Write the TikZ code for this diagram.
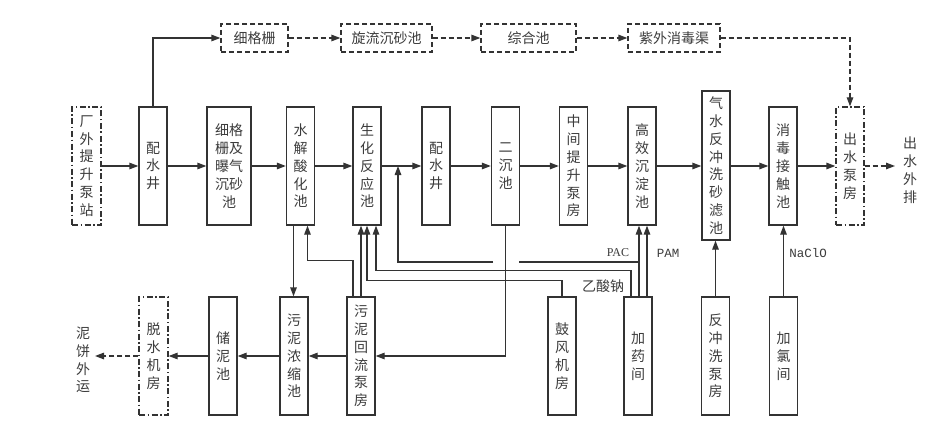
\documentclass[tikz,border=0pt]{standalone}
\usepackage{fontspec}
\setmainfont{Noto Sans CJK SC}
\newfontfamily\serifl{Liberation Serif}
\newfontfamily\monol{Liberation Mono}
\usetikzlibrary{arrows.meta}
\definecolor{ln}{HTML}{333333}
\definecolor{tx}{HTML}{3C3C3C}
\begin{document}
\begin{tikzpicture}[x=1pt,y=-1pt,
  every node/.style={text=tx, inner sep=0pt, align=center, font=\fontsize{14}{17.8}\selectfont},
  box/.style={draw=ln, line width=1.3pt, minimum width=28, minimum height=118},
  dashdot/.style={dash pattern=on 6pt off 2.5pt on 1.5pt off 2.5pt},
  tbox/.style={draw=ln, line width=1.3pt, minimum height=28, dash pattern=on 5pt off 3pt},
  line/.style={draw=ln, line width=1.3pt},
  arr/.style={line, -{Triangle[length=9pt,width=6.5pt]}},
  darr/.style={arr, dash pattern=on 5pt off 3pt},
  lpac/.style={font=\serifl\fontsize{12}{14}\selectfont},
  lmono/.style={font=\monol\fontsize{12.5}{14}\selectfont}
]
\useasboundingbox (0,0) rectangle (939,425);
\fill[white] (0,0) rectangle (939,425);

% main row
\node[box, dashdot, minimum width=29] (src) at (86.5,166) {厂\\外\\提\\升\\泵\\站};
\node[box] (pw1) at (153,166) {配\\水\\井};
\node[box, minimum width=44] (grit) at (229,166) {细格\\栅及\\曝气\\沉砂\\池};
\node[box] (hyd) at (300.5,166) {水\\解\\酸\\化\\池};
\node[box] (bio) at (367,166) {生\\化\\反\\应\\池};
\node[box] (pw2) at (436,166) {配\\水\\井};
\node[box] (sec) at (505.5,166) {二\\沉\\池};
\node[box] (mid) at (573.5,166) {中\\间\\提\\升\\泵\\房};
\node[box] (hes) at (642,166) {高\\效\\沉\\淀\\池};
\node[box, minimum height=149] (filt) at (716,165.5) {气\\水\\反\\冲\\洗\\砂\\滤\\池};
\node[box] (dis) at (783,166) {消\\毒\\接\\触\\池};
\node[box, dashdot] (out) at (850,166) {出\\水\\泵\\房};
\node (eff) at (910,170) {出\\水\\外\\排};

% top row
\node[tbox, minimum width=67] (t1) at (254.5,38) {细格栅};
\node[tbox, minimum width=91] (t2) at (386.5,38) {旋流沉砂池};
\node[tbox, minimum width=95] (t3) at (528.5,38) {综合池};
\node[tbox, minimum width=92] (t4) at (674,38) {紫外消毒渠};

% bottom row
\node[box, dashdot, minimum width=29] (dew) at (153.5,356) {脱\\水\\机\\房};
\node[box] (sto) at (223,356) {储\\泥\\池};
\node[box] (thk) at (294,356) {污\\泥\\浓\\缩\\池};
\node[box] (rp) at (361,356) {污\\泥\\回\\流\\泵\\房};
\node[box] (blw) at (562,356) {鼓\\风\\机\\房};
\node[box] (chem) at (638,356) {加\\药\\间};
\node[box] (bwp) at (715.5,356) {反\\冲\\洗\\泵\\房};
\node[box] (chl) at (783.5,356) {加\\氯\\间};
\node (cake) at (83,360) {泥\\饼\\外\\运};

% main flow
\draw[arr] (src.east) -- (pw1.west);
\draw[arr] (pw1.east) -- (grit.west);
\draw[arr] (grit.east) -- (hyd.west);
\draw[arr] (hyd.east) -- (bio.west);
\draw[arr] (bio.east) -- (pw2.west);
\draw[arr] (pw2.east) -- (sec.west);
\draw[arr] (sec.east) -- (mid.west);
\draw[arr] (mid.east) -- (hes.west);
\draw[arr] (hes.east) -- (hes.east -| filt.west);
\draw[arr] (hes.east -| filt.east) -- (dis.west);
\draw[arr] (dis.east) -- (out.west);
\coordinate (effin) at (895,166);
\draw[darr] (out.east) -- (effin);

% top bypass
\draw[arr] (pw1.north) |- (t1.west);
\draw[darr] (t1.east) -- (t2.west);
\draw[darr] (t2.east) -- (t3.west);
\draw[darr] (t3.east) -- (t4.west);
\draw[darr] (t4.east) -| (out.north);

% sludge line
\draw[arr] (rp.west) -- (thk.east);
\draw[arr] (thk.west) -- (sto.east);
\draw[arr] (sto.west) -- (dew.east);
\coordinate (cakein) at (95,356);
\draw[darr] (dew.west) -- (cakein);

% vertical connections
\draw[arr] ([xshift=-7]hyd.south) -- ([xshift=-7]hyd.south |- thk.north);
\draw[arr] ([xshift=-8]rp.north) -- ++(0,-36) -| ([xshift=7]hyd.south);
\draw[arr] (rp.north) -- (rp.north |- bio.south);
\draw[arr] (blw.north) -- ++(0,-16) -| (bio.south);
\draw[arr] ([xshift=-7]chem.north) -- ++(0,-26) -| ([xshift=9]bio.south);
\draw[arr] ([xshift=1]chem.north) -- ([xshift=1]chem.north |- hes.south);
\draw[arr] ([xshift=9]chem.north) -- ([xshift=9]chem.north |- hes.south);
\coordinate (gapR) at (519,262);
\coordinate (gapL) at (493,262);
\coordinate (pin) at (398,166);
\draw[line] ([xshift=1]chem.north |- gapR) -- (gapR);
\draw[arr] (gapL) -| (pin);
\draw[arr] (sec.south) |- (rp.east);
\draw[arr] (bwp.north) -- (bwp.north |- filt.south);
\draw[arr] (chl.north) -- (chl.north |- dis.south);

% labels
\node[lpac] (lbpac) at (618,253) {PAC};
\node[lmono] (lbpam) at (668,253) {PAM};
\node[lmono] (lbnaclo) at (808,253) {NaClO};
\node (lbnaac) at (603,286) {乙酸钠};
\end{tikzpicture}
\end{document}
